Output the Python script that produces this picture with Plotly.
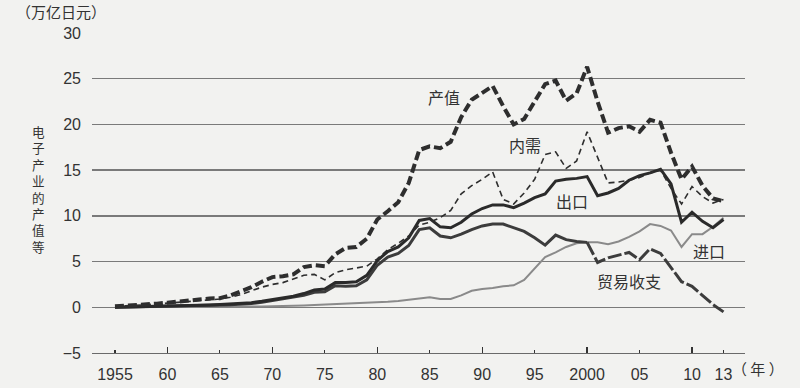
import plotly.graph_objects as go

years = list(range(1955, 2014))

output_value = [0.1, 0.15, 0.2, 0.3, 0.4, 0.5, 0.65, 0.75, 0.85, 0.95,
                1.0, 1.3, 1.7, 2.2, 2.8, 3.3, 3.4, 3.6, 4.4, 4.6,
                4.5, 5.8, 6.5, 6.6, 7.5, 9.6, 10.5, 11.5, 13.6, 17.2,
                17.6, 17.4, 18.1, 20.8, 22.7, 23.5, 24.2, 22.0, 20.0, 20.6,
                22.5, 24.4, 24.8, 22.6, 23.4, 26.3, 22.5, 19.1, 19.6, 19.8,
                19.2, 20.5, 20.2, 16.9, 14.0, 15.4, 13.3, 11.9, 11.6]

domestic = [0.1, 0.15, 0.2, 0.3, 0.35, 0.45, 0.55, 0.65, 0.75, 0.85,
            0.9, 1.1, 1.4, 1.8, 2.2, 2.5, 2.7, 3.1, 3.5, 3.6,
            3.0, 3.8, 4.1, 4.3, 4.5, 5.3, 6.3, 7.0, 7.8, 9.0,
            9.3, 9.8, 10.6, 12.4, 13.3, 14.0, 14.8, 11.8, 11.3, 12.5,
            14.0, 16.7, 17.0, 15.2, 16.0, 19.2, 16.4, 13.6, 13.7, 13.9,
            14.2, 14.7, 15.0, 13.0, 11.3, 13.2, 12.1, 11.4, 11.8]

exports = [0.0, 0.02, 0.03, 0.05, 0.08, 0.1, 0.12, 0.15, 0.2, 0.25,
           0.3, 0.35, 0.4, 0.5, 0.65, 0.85, 1.0, 1.2, 1.5, 1.9,
           2.0, 2.7, 2.7, 2.8, 3.5, 5.1, 6.1, 6.6, 7.6, 9.5,
           9.7, 8.8, 8.7, 9.3, 10.2, 10.8, 11.2, 11.2, 10.9, 11.4,
           12.0, 12.4, 13.8, 14.0, 14.1, 14.3, 12.2, 12.5, 13.0, 13.9,
           14.4, 14.7, 15.1, 13.5, 9.3, 10.4, 9.4, 8.7, 9.6]

imports = [0.0, 0.0, 0.01, 0.01, 0.02, 0.02, 0.03, 0.03, 0.04, 0.05,
           0.05, 0.06, 0.07, 0.08, 0.09, 0.1, 0.12, 0.15, 0.2, 0.25,
           0.3, 0.35, 0.4, 0.45, 0.5, 0.5, 0.6, 0.7, 0.85, 1.0,
           1.1, 0.9, 0.9, 1.3, 1.8, 2.0, 2.1, 2.3, 2.4, 3.0,
           4.2, 5.5, 6.0, 6.6, 7.0, 7.1, 7.1, 6.9, 7.2, 7.7,
           8.3, 9.1, 8.9, 8.4, 6.6, 8.0, 8.0, 8.8, 9.8]

balance = [0.0, 0.02, 0.02, 0.04, 0.06, 0.08, 0.09, 0.12, 0.16, 0.2,
           0.25, 0.29, 0.33, 0.42, 0.56, 0.75, 0.88, 1.05, 1.3, 1.65,
           1.7, 2.35, 2.3, 2.35, 3.0, 4.6, 5.5, 5.9, 6.75, 8.5,
           8.7, 7.8, 7.6, 8.0, 8.5, 8.9, 9.1, 9.1, 8.7, 8.3,
           7.6, 6.8, 7.9, 7.4, 7.2, 7.1, 4.9, 5.4, 5.7, 6.0,
           5.2, 6.4, 5.9, 4.4, 2.8, 2.3, 1.3, 0.3, -0.5]

tick_vals = [1955, 1960, 1965, 1970, 1975, 1980, 1985, 1990, 1995, 2000, 2005, 2010, 2013]
tick_text = ["1955", "60", "65", "70", "75", "80", "85", "90", "95", "2000", "05", "10", "13"]
major_ticks = [1960, 1970, 1980, 1990, 2000, 2010]
y_ticks = [-5, 0, 5, 10, 15, 20, 25, 30]

series_labels = ["产值", "内需", "出口", "进口", "贸易收支"]
label_x = [1986.4, 1994.1, 1998.6, 2011.6, 2004.0]
label_y = [23.0, 17.7, 11.6, 6.2, 2.9]

y_title = "电子产业的产值等"
unit_label = "（万亿日元）"
year_label = "（ 年 ）"

INK = "#333333"
BG = "#f2f2f0"
NUM_FONT = "Liberation Sans, Arial, sans-serif"
CJK_FONT = "Noto Sans CJK SC, Noto Sans CJK JP, sans-serif"

# the page's default body margin is removed (post_script), so the figure fills the window
W, H = 800, 388
L, R, T, B = 92, 55, 33, 35
PW, PH = W - L - R, H - T - B


def px_to_paper(px, py):
    return (px - L) / PW, (H - B - py) / PH


fig = go.Figure()

split = years.index(2000)

fig.add_trace(go.Scatter(x=years, y=imports, mode="lines",
                         line=dict(color="#8a8a8a", width=2), hoverinfo="skip"))
fig.add_trace(go.Scatter(x=years[:split + 1], y=balance[:split + 1], mode="lines",
                         line=dict(color="#3c3c3c", width=3), hoverinfo="skip"))
fig.add_trace(go.Scatter(x=years[split:], y=balance[split:], mode="lines",
                         line=dict(color="#3c3c3c", width=3, dash="14px,3px"), hoverinfo="skip"))
fig.add_trace(go.Scatter(x=years, y=exports, mode="lines",
                         line=dict(color="#2a2a2a", width=3), hoverinfo="skip"))
fig.add_trace(go.Scatter(x=years, y=domestic, mode="lines",
                         line=dict(color="#2e2e2e", width=1.6, dash="6px,4px"), hoverinfo="skip"))
fig.add_trace(go.Scatter(x=years, y=output_value, mode="lines",
                         line=dict(color="#2e2e2e", width=4, dash="9px,4px"), hoverinfo="skip"))
# helper trace for the longer decade ticks
fig.add_trace(go.Scatter(x=major_ticks, y=[None] * len(major_ticks), mode="lines",
                         xaxis="x2", hoverinfo="skip", showlegend=False))

x_range = [1952.81, 2015.05]

fig.update_layout(
    width=W, height=H,
    margin=dict(l=L, r=R, t=T, b=B),
    paper_bgcolor=BG, plot_bgcolor=BG,
    showlegend=False,
    xaxis=dict(range=x_range, tickvals=tick_vals, ticktext=tick_text,
               ticks="inside", ticklen=3, tickcolor=INK, tickwidth=1.2,
               showgrid=False, zeroline=False, showline=True,
               linecolor="#6a6a6a", linewidth=1.3,
               tickfont=dict(family=NUM_FONT, size=16, color=INK),
               ticklabelstandoff=6, fixedrange=True, automargin=False),
    xaxis2=dict(range=x_range, overlaying="x", anchor="y", side="bottom",
                tickvals=major_ticks, ticks="inside", ticklen=6, tickcolor=INK,
                tickwidth=1.2, showticklabels=False, showgrid=False,
                zeroline=False, showline=False),
    yaxis=dict(range=[-5, 30], tickvals=y_ticks, showgrid=True,
               gridcolor="#7a7a7a", gridwidth=1.3, zeroline=False,
               showline=False, ticks="",
               tickfont=dict(family=NUM_FONT, size=16, color=INK),
               ticklabelstandoff=10, fixedrange=True, automargin=False),
)

for txt, xv, yv in zip(series_labels, label_x, label_y):
    fig.add_annotation(x=xv, y=yv, xref="x", yref="y", text=txt, showarrow=False,
                       font=dict(family=CJK_FONT, size=16, color=INK))

fig.add_annotation(x=2013.6, y=-5, xref="x", yref="y", yshift=-15, xanchor="left",
                   text=year_label, showarrow=False,
                   font=dict(family=CJK_FONT, size=15, color=INK))

ux, uy = px_to_paper(14, 12)
fig.add_annotation(x=ux, y=uy, xref="paper", yref="paper", text=unit_label,
                   showarrow=False, xanchor="left", yanchor="middle",
                   font=dict(family=CJK_FONT, size=15, color=INK))

# vertical stacked y-axis title (one character per line)
cx, cy = px_to_paper(38.5, 188.5)
fig.add_annotation(x=cx, y=cy, xref="paper", yref="paper",
                   text="<br>".join(y_title), showarrow=False,
                   xanchor="center", yanchor="middle",
                   font=dict(family=CJK_FONT, size=12.6, color=INK))

fig.write_html("out.html",
               config={"displayModeBar": False, "staticPlot": True},
               post_script="document.body.style.margin='0';document.body.style.overflow='hidden';")
